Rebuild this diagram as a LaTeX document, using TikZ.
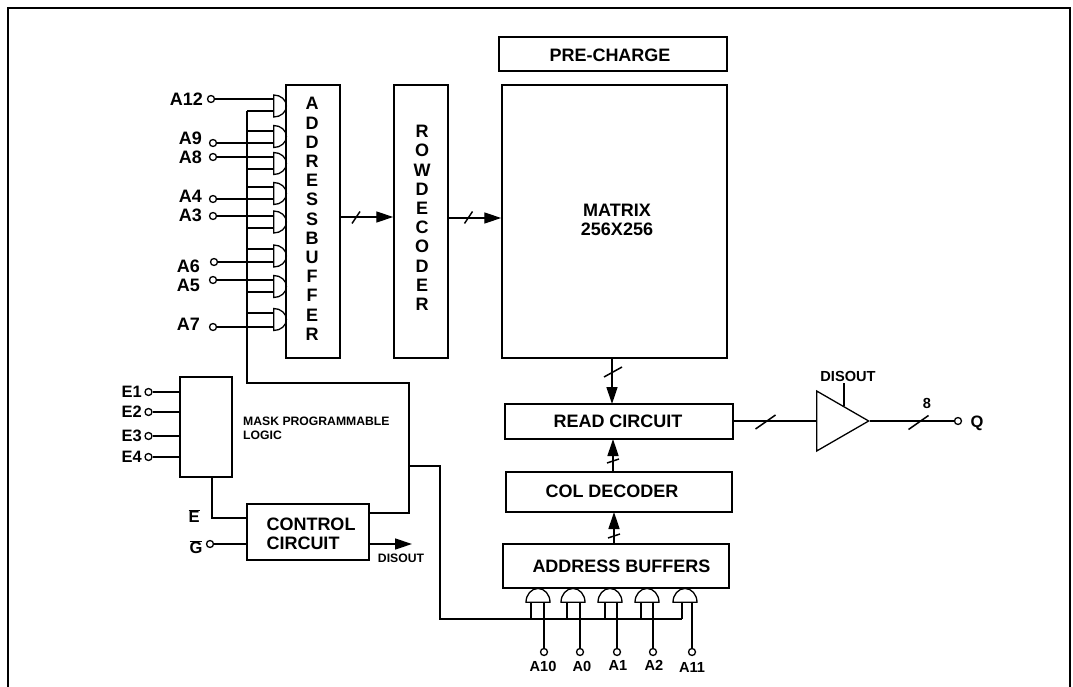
\documentclass[tikz,border=0pt]{standalone}
\usepackage{fontspec}
\setmainfont{Liberation Sans}
\usetikzlibrary{arrows.meta,shapes.geometric,calc}
\tikzset{
  big/.style   ={font=\fontsize{18}{19.2}\selectfont\bfseries, inner sep=0pt},
  bigish/.style={font=\fontsize{16.5}{18}\selectfont\bfseries, inner sep=0pt},
  mid/.style   ={font=\fontsize{14.6}{16}\selectfont\bfseries, inner sep=0pt},
  tiny/.style  ={font=\fontsize{12.2}{13.3}\selectfont\bfseries, inner sep=0pt},
  box/.style   ={draw, line width=1.5pt},
  term/.style  ={draw, circle, inner sep=0pt, minimum size=7pt, line width=1.3pt},
  gater/.style ={draw, semicircle, inner sep=0pt, minimum width=22pt, rotate=-90, yscale=1.15, anchor=chord center, line width=1.3pt},
  gateu/.style ={draw, semicircle, inner sep=0pt, minimum width=24pt, yscale=1.15, anchor=chord center, line width=1.3pt},
  wire/.style  ={line width=1.4pt},
  arr/.style   ={wire, -{Stealth[length=17pt, width=11pt, inset=0pt]}},
  slash/.style ={line width=1.5pt},
}
\begin{document}
\begin{tikzpicture}[x=1pt,y=-1pt]
  \useasboundingbox (0,0) rectangle (1073,687);
  \draw[line width=1.7pt] (8,687) -- (8,8) -- (1070,8) -- (1070,687);

  \node[box, minimum width=228pt, minimum height=34pt] (precharge) at (613,54) {};
  \node[big] (prechargetxt) at (610,55) {PRE-CHARGE};
  \node[box, minimum width=225pt, minimum height=273pt] (matrix) at (614.5,221.5) {};
  \node[big, align=center] (matrixtxt) at (617,220) {MATRIX\\256X256};
  \node[box, minimum width=54pt, minimum height=273pt] (addrbuf) at (313,221.5) {};
  \node[big, align=center] (addrbuftxt) at (312,219)
        {A\\D\\D\\R\\E\\S\\S\\B\\U\\F\\F\\E\\R};
  \node[box, minimum width=54pt, minimum height=273pt] (rowdec) at (421,221.5) {};
  \node[big, align=center] (rowdectxt) at (422,218)
        {R\\O\\W\\D\\E\\C\\O\\D\\E\\R};
  \node[box, minimum width=228pt, minimum height=35pt] (read) at (619,421.5) {};
  \node[big] (readtxt) at (618,421) {READ CIRCUIT};
  \node[box, minimum width=226pt, minimum height=40pt] (coldec) at (619,492) {};
  \node[big] (coldectxt) at (612,491) {COL DECODER};
  \node[box, minimum width=226pt, minimum height=44pt] (addrbufs) at (616,566) {};
  \node[big] (addrbufstxt) at (621.5,566) {ADDRESS BUFFERS};
  \node[box, minimum width=52pt, minimum height=100pt] (logic) at (206,427) {};
  \node[tiny, align=left, anchor=north west] (logictxt) at (243,417) {MASK PROGRAMMABLE\\LOGIC};
  \node[box, minimum width=122pt, minimum height=56pt] (control) at (308,532) {};
  \node[big, align=left] (controltxt) at (311,533.5) {CONTROL\\CIRCUIT};

  % row address inputs and their gates
  \coordinate (busturn) at (247,383);
  \coordinate (bustop) at (247,111);
  \draw[wire] (bustop) -- (busturn) -- (409,383) -- (409,513) -- (control.east |- 0,513);
  \foreach \n/\gy/\tx/\ty/\lx/\ly/\by in {A12/106/211/99/203/99/111, A9/136.5/213/143/202/138/131,
      A8/163.5/213/157/202/157/169, A4/193.5/213/199/202/196/187, A3/222/213/216/202/215/228,
      A6/256/214/262/200/266/249, A5/286.5/213/280/200/285/292, A7/319.5/213/327/200/324/313} {
    \node[gater] (g\n) at (273,\gy) {};
    \node[term] (t\n) at (\tx,\ty) {};
    \node[big, anchor=east] (l\n) at (\lx,\ly) {\n};
    \coordinate (b\n) at (247,\by);
    \draw[wire] (t\n) -- (t\n -| g\n.chord center);
    \draw[wire] (b\n) -- (b\n -| g\n.chord center);
  }

  % chip enable inputs
  \foreach \n/\ty in {E1/392, E2/412, E3/436, E4/457} {
    \node[term] (t\n) at (148.5,\ty) {};
    \node[bigish, anchor=east] (l\n) at (142,\ty) {\n};
    \draw[wire] (t\n) -- (t\n -| logic.west);
  }
  \coordinate (ein) at (control.west |- 0,518);
  \draw[wire] ([xshift=6]logic.south) |- (ein);
  \node[bigish] (lE) at (194,516) {$\overline{\mbox{E}}$};
  \node[term] (tG) at (210,544) {};
  \node[bigish] (lG) at (196,547) {$\overline{\mbox{G}}$};
  \draw[wire] (tG) -- (tG -| control.west);
  \coordinate (disend) at (412,544);
  \draw[arr] (control.east |- disend) -- (disend);
  \node[tiny] (disctl) at (401,558) {DISOUT};

  % column address inputs and their gates
  \coordinate (colbus) at (682,619);
  \draw[wire] (409,466) -- (440,466) -- (440,619) -- (colbus);
  \foreach \n/\gx/\lg/\tx/\lx/\ly in {A10/538/531/544/543/666, A0/573/567/580/582/666,
      A1/610/605/617/618/665, A2/647/641/653/654/665, A11/685/682/692/692/667} {
    \node[gateu] (g\n) at (\gx,603) {};
    \node[term] (t\n) at (\tx,652) {};
    \node[mid] (l\n) at (\lx,\ly) {\n};
    \draw[wire] (t\n) -- (t\n |- g\n.chord center);
    \draw[wire] (\lg,619) -- (\lg,603);
  }

  % data path
  \draw[arr] (addrbuf.east |- 0,217) -- (rowdec.west |- 0,217);
  \draw[arr] (rowdec.east |- 0,218) -- (matrix.west |- 0,218);
  \draw[arr] (612,358) -- (612,404);
  \draw[arr] (613,472) -- (613,439);
  \draw[arr] (614,544) -- (614,512);
  \node[draw, isosceles triangle, isosceles triangle stretches, inner sep=0pt, minimum width=60pt,
        minimum height=52pt, line width=1.3pt] (outbuf) at (834,421) {};
  \draw[wire] (read.east |- outbuf.west) -- (outbuf.west);
  \node[term] (tQ) at (958,421) {};
  \node[bigish] (lQ) at (977,423) {Q};
  \draw[wire] (outbuf.apex) -- (tQ);
  \node[mid] (disbuf) at (848,376) {DISOUT};
  \coordinate (disin) at (844,406);
  \draw[wire] (844,383) -- (disin);
  \node[mid] (eight) at (927,403) {8};

  % bus width marks
  \foreach \n/\x/\y/\dx/\dy in {s1/356/217.5/4/-6, s2/468.5/217.5/4/-6, s3/613/372/9/-5,
      s4/613/461/6/-2, s5/614/536/6/-2, s6/765.5/422/10/-7, s7/918.5/422.5/10/-7} {
    \coordinate (\n) at (\x,\y);
    \draw[slash] ([shift={(-\dx,-\dy)}]\n) -- ([shift={(\dx,\dy)}]\n);
  }
\end{tikzpicture}
\end{document}
